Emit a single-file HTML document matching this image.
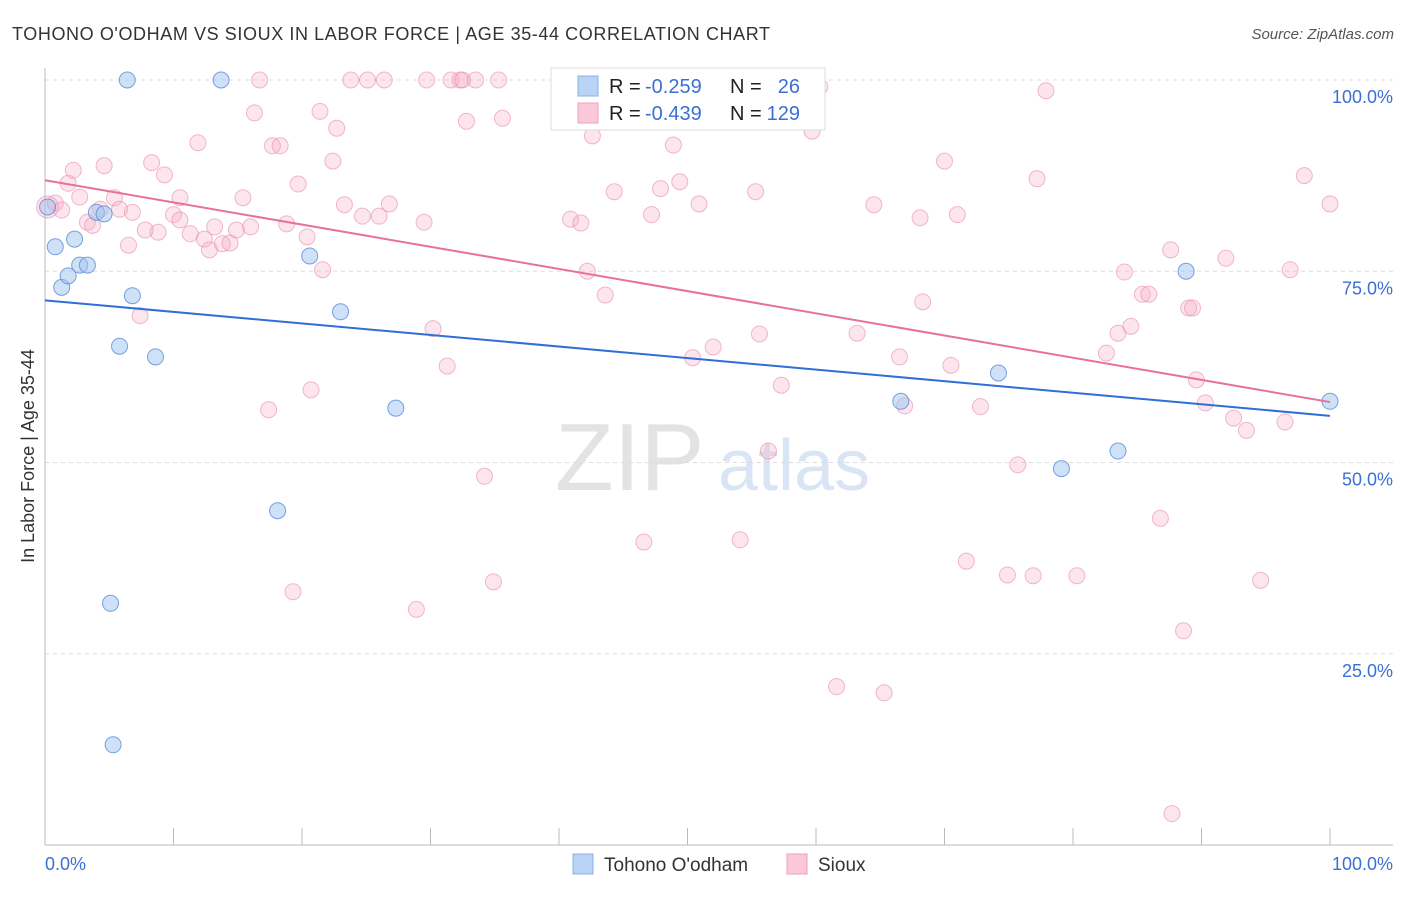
<!DOCTYPE html>
<html><head><meta charset="utf-8"><style>
body{margin:0;background:#fff;font-family:"Liberation Sans",sans-serif;}
svg text{font-family:"Liberation Sans",sans-serif;}
</style></head><body>
<svg id="chart" width="1406" height="892" xmlns="http://www.w3.org/2000/svg">
<text x="12" y="40" font-size="18" fill="#333" textLength="758" lengthAdjust="spacing">TOHONO O'ODHAM VS SIOUX IN LABOR FORCE | AGE 35-44 CORRELATION CHART</text>
<text x="1394" y="39" font-size="15" fill="#555" font-style="italic" text-anchor="end">Source: ZipAtlas.com</text>
<g id="grid"></g>
<text x="555" y="490" font-size="96" fill="#ddd" font-family="Liberation Serif" opacity="0.8">ZIP</text>
<text x="718" y="490" font-size="72" fill="#c9daf2" opacity="0.7">atlas</text>
<g id="marks"></g>
<text transform="translate(34,456) rotate(-90)" font-size="18" fill="#333" text-anchor="middle">In Labor Force | Age 35-44</text>
<text x="45" y="870" font-size="18" fill="#3b6fd4">0.0%</text>
<text x="1393" y="870" font-size="18" fill="#3b6fd4" text-anchor="end">100.0%</text>
<g>
<rect x="551" y="68" width="274" height="62" fill="#fff" stroke="#ddd"/>
<rect x="578" y="76" width="20" height="20" fill="#b8d3f5" stroke="#8ab0e6"/>
<rect x="578" y="103" width="20" height="20" fill="#fac8d8" stroke="#efa0bc"/>
<text x="609" y="93" font-size="20" fill="#222">R =</text>
<text x="645" y="93" font-size="20" fill="#3b6fd4">-0.259</text>
<text x="730" y="93" font-size="20" fill="#222">N =</text>
<text x="800" y="93" font-size="20" fill="#3b6fd4" text-anchor="end">26</text>
<text x="609" y="120" font-size="20" fill="#222">R =</text>
<text x="645" y="120" font-size="20" fill="#3b6fd4">-0.439</text>
<text x="730" y="120" font-size="20" fill="#222">N =</text>
<text x="800" y="120" font-size="20" fill="#3b6fd4" text-anchor="end">129</text>
</g>
<g>
<rect x="573" y="854" width="20" height="20" fill="#b8d3f5" stroke="#8ab0e6"/>
<text x="604" y="871" font-size="19" fill="#333">Tohono O'odham</text>
<rect x="787" y="854" width="20" height="20" fill="#fac8d8" stroke="#efa0bc"/>
<text x="818" y="871" font-size="19" fill="#333">Sioux</text>
</g>
</svg>
<script>
const yTicks=[25,50,75,100];
const yTickLabels=["25.0%","50.0%","75.0%","100.0%"];
const blueX=[0.2,0.8,1.3,1.8,2.3,2.7,3.3,4.0,4.6,5.1,5.3,5.8,6.4,6.8,8.6,13.7,18.1,20.6,23.0,27.3,66.6,74.2,79.1,83.5,88.8,100];
const blueY=[83.4,78.2,72.9,74.4,79.2,75.8,75.8,82.7,82.5,31.6,13.1,65.2,100,71.8,63.8,100,43.7,77.0,69.7,57.1,58.0,61.7,49.2,51.5,75.0,58.0];
const pinkX=[0.2,0.8,1.3,1.8,2.2,2.7,3.3,3.7,4.3,4.6,5.4,5.8,6.5,6.8,7.4,7.8,8.3,8.8,9.3,10.0,10.5,10.5,11.3,11.9,12.4,12.8,13.2,13.8,14.4,14.9,15.4,16.0,16.3,16.7,17.4,17.7,18.3,18.8,19.3,19.7,20.4,20.7,21.4,21.6,22.7,22.4,23.3,23.8,24.7,25.1,26.0,26.4,26.8,28.9,29.5,29.7,30.2,31.3,31.6,32.3,32.5,32.8,33.5,34.2,34.9,35.3,35.6,40.9,41.7,42.2,42.6,43.6,44.3,46.6,47.2,47.9,48.9,49.4,50.4,50.9,52.0,54.1,54.5,55.3,55.6,56.3,57.3,59.7,60.3,61.6,63.2,64.5,65.3,66.5,66.9,68.1,68.3,70.0,70.5,71.0,71.7,72.8,74.9,75.7,76.9,77.2,77.9,80.3,82.6,83.5,84.0,84.5,85.4,85.9,86.8,87.6,87.7,88.6,89.0,89.3,89.6,90.3,91.9,92.5,93.5,94.6,96.5,96.9,98.0,100];
const pinkY=[83.4,83.9,83.0,86.5,88.2,84.7,81.4,81.0,83.1,88.8,84.6,83.1,78.4,82.7,69.2,80.4,89.2,80.1,87.6,82.4,84.6,81.7,79.9,91.8,79.2,77.8,80.8,78.6,78.7,80.4,84.6,80.8,95.7,100,56.9,91.4,91.4,81.2,33.1,86.4,79.5,59.5,95.9,75.2,93.7,89.4,83.7,100,82.2,100,82.2,100,83.8,30.8,81.4,100,67.5,62.6,100,100,100,94.6,100,48.2,34.4,100,95.0,81.8,81.3,75.0,92.7,71.9,85.4,39.6,82.4,85.8,91.5,86.7,63.7,83.8,65.1,39.9,100,85.4,66.8,51.5,60.1,93.3,99.1,20.7,66.9,83.7,19.9,63.8,57.4,82.0,71.0,89.4,62.7,82.4,37.1,57.3,35.3,49.7,35.2,87.1,98.6,35.2,64.3,66.9,74.9,67.8,72.0,72.0,42.7,77.8,4.1,28.0,70.2,70.2,60.8,57.8,76.7,55.8,54.2,34.6,55.3,75.2,87.5,83.8];
const blueTrend=[71.2,56.1];
const pinkTrend=[86.9,57.9];
const trendX=[0,100];

const NS="http://www.w3.org/2000/svg";
const xs=v=>45+v*12.85;
const ys=v=>845-v*7.65;
function mk(tag,attrs,parent){const e=document.createElementNS(NS,tag);for(const k in attrs)e.setAttribute(k,attrs[k]);parent.appendChild(e);return e;}
const grid=document.getElementById('grid');
const marks=document.getElementById('marks');
yTicks.forEach((t,i)=>{
  const l=mk('line',{x1:45,x2:1393,y1:ys(t),y2:ys(t),stroke:'#ddd','stroke-dasharray':'4,4'},grid);
  
  
  const tx=mk('text',{x:1393,y:ys(t)+23,'font-size':18,fill:'#3b6fd4','text-anchor':'end'},grid);
  tx.textContent=yTickLabels[i];
  
  
});
const ya=mk('line',{x1:45,x2:45,y1:68,y2:845,stroke:'#bbb'},grid);


const xa=mk('line',{x1:45,x2:1393,y1:845,y2:845,stroke:'#bbb'},grid);


for(let k=0;k<=10;k++){
  const tk=mk('line',{x1:xs(k*10),x2:xs(k*10),y1:828,y2:845,stroke:'#bbb'},grid);
  
  
}
pinkX.forEach((x,i)=>{
  const c=mk('circle',{cx:xs(x),cy:ys(pinkY[i]),r:i===0?11:8,fill:'rgba(246,170,196,0.3)',stroke:'rgba(232,140,172,0.6)'},marks);
  
  
});
blueX.forEach((x,i)=>{
  const c=mk('circle',{cx:xs(x),cy:ys(blueY[i]),r:8,fill:'rgba(160,196,240,0.5)',stroke:'rgba(90,140,215,0.8)'},marks);
  
  
});
const bt=mk('line',{x1:xs(trendX[0]),y1:ys(blueTrend[0]),x2:xs(trendX[1]),y2:ys(blueTrend[1]),stroke:'#2f6fd6','stroke-width':2},marks);


const pt=mk('line',{x1:xs(trendX[0]),y1:ys(pinkTrend[0]),x2:xs(trendX[1]),y2:ys(pinkTrend[1]),stroke:'#e8709a','stroke-width':2},marks);


</script>
</body></html>
